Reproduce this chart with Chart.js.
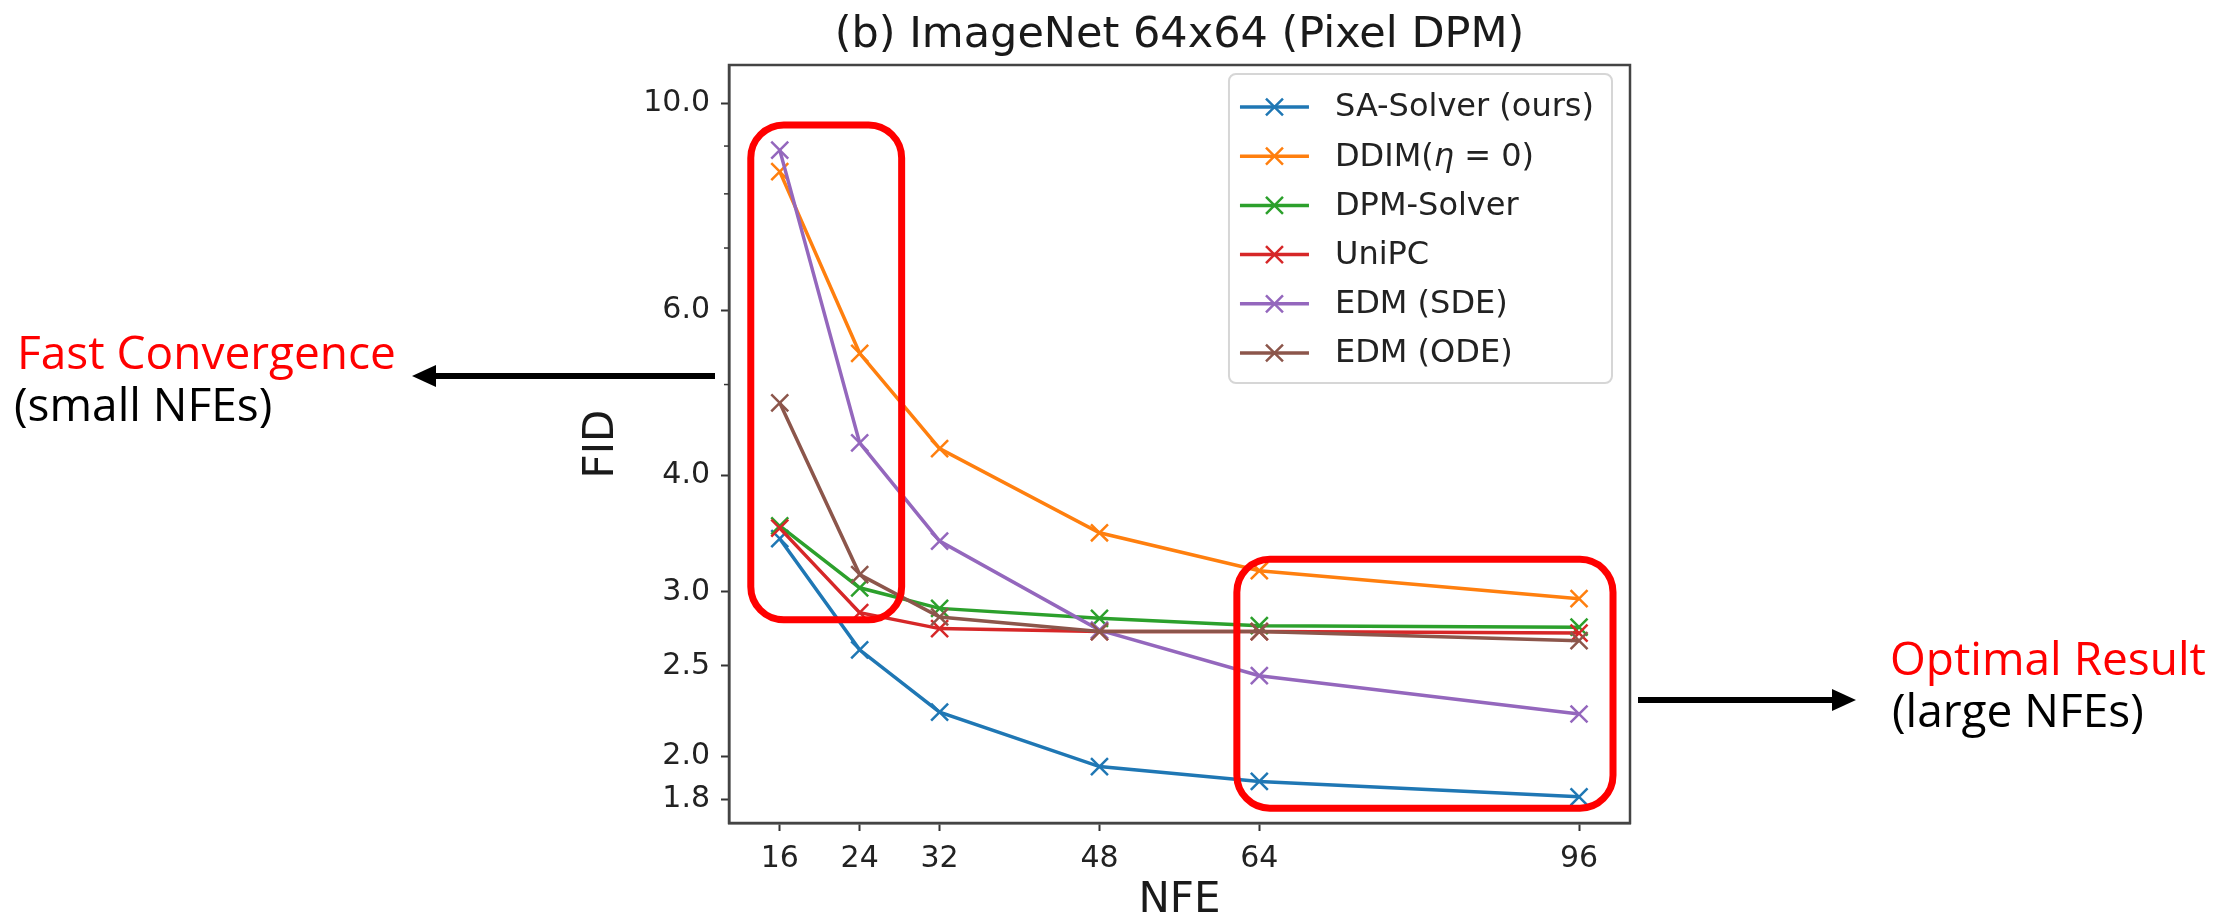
<!DOCTYPE html>
<html>
<head>
<meta charset="utf-8">
<script src="https://cdn.jsdelivr.net/npm/chart.js@4"></script>
<style>
  html, body { margin: 0; padding: 0; background: #fff; }
  #wrap { position: relative; width: 2223px; height: 922px; }
  canvas { position: absolute; left: 0; top: 0; }
  .note { position: absolute; font-family: "Open Sans", sans-serif; font-size: 46px; line-height: 46px; white-space: nowrap; color: #000; }
  .red { color: #ff0000; }
</style>
</head>
<body>
<div id="wrap">
  <canvas id="chart" width="2223" height="922"></canvas>
  <div class="note red" style="left:17px;top:328px">Fast Convergence</div>
  <div class="note" style="left:14px;top:380px">(small NFEs)</div>
  <div class="note red" style="left:1890px;top:634px">Optimal Result</div>
  <div class="note" style="left:1892px;top:686px">(large NFEs)</div>
</div>
<script>
const nfe = [16, 24, 32, 48, 64, 96];

const saSolver = [3.42, 2.60, 2.23, 1.95, 1.88, 1.81];
const ddim = [8.45, 5.40, 4.27, 3.47, 3.16, 2.95];
const dpmSolver = [3.53, 3.03, 2.88, 2.81, 2.76, 2.75];
const uniPC = [3.51, 2.85, 2.74, 2.72, 2.72, 2.71];
const edmSde = [8.91, 4.33, 3.40, 2.73, 2.44, 2.22];
const edmOde = [4.78, 3.13, 2.82, 2.72, 2.72, 2.66];

const seriesNames = ["SA-Solver (ours)", "DDIM(η = 0)", "DPM-Solver", "UniPC", "EDM (SDE)", "EDM (ODE)"];
const seriesValues = [saSolver, ddim, dpmSolver, uniPC, edmSde, edmOde];
const seriesColors = ["#1f77b4", "#ff7f0e", "#2ca02c", "#d62728", "#9467bd", "#8c564b"];

const yTicks = [1.8, 2.0, 2.5, 3.0, 4.0, 6.0, 10.0];
const yMinorTicks = [5, 7, 8, 9];

Chart.defaults.font.family = "'DejaVu Sans', sans-serif";

function drawX(ctx, cx, cy, r) {
  const d = r * Math.SQRT1_2;
  ctx.beginPath();
  ctx.moveTo(cx - d, cy - d); ctx.lineTo(cx + d, cy + d);
  ctx.moveTo(cx - d, cy + d); ctx.lineTo(cx + d, cy - d);
  ctx.stroke();
}

function roundedRect(ctx, x, y, w, h, r) {
  ctx.beginPath();
  ctx.moveTo(x + r, y);
  ctx.lineTo(x + w - r, y);
  ctx.arcTo(x + w, y, x + w, y + r, r);
  ctx.lineTo(x + w, y + h - r);
  ctx.arcTo(x + w, y + h, x + w - r, y + h, r);
  ctx.lineTo(x + r, y + h);
  ctx.arcTo(x, y + h, x, y + h - r, r);
  ctx.lineTo(x, y + r);
  ctx.arcTo(x, y, x + r, y, r);
  ctx.closePath();
}

function arrow(ctx, x0, x1, yy) {
  const dir = Math.sign(x1 - x0);
  const headLen = 24, headHalf = 11;
  ctx.strokeStyle = "#000";
  ctx.fillStyle = "#000";
  ctx.lineWidth = 6;
  ctx.beginPath();
  ctx.moveTo(x0, yy);
  ctx.lineTo(x1 - dir * headLen, yy);
  ctx.stroke();
  ctx.beginPath();
  ctx.moveTo(x1, yy);
  ctx.lineTo(x1 - dir * headLen, yy - headHalf);
  ctx.lineTo(x1 - dir * headLen, yy + headHalf);
  ctx.closePath();
  ctx.fill();
}

// legend label with the greek eta set in italic, like the mathtext original
function legendText(ctx, text, x, y) {
  const parts = text.split("η");
  let cx = x;
  parts.forEach((p, i) => {
    ctx.font = "32px 'DejaVu Sans'";
    ctx.fillText(p, cx, y);
    cx += ctx.measureText(p).width;
    if (i < parts.length - 1) {
      ctx.font = "italic 32px 'DejaVu Sans'";
      ctx.fillText("η", cx, y);
      cx += ctx.measureText("η").width;
    }
  });
}

// frame, minor ticks, legend, highlight boxes and side arrows
const extras = {
  id: "extras",
  afterDatasetsDraw(chart) {
    const { ctx, chartArea: a, scales: { x, y } } = chart;
    ctx.save();

    ctx.strokeStyle = "#444";
    ctx.lineWidth = 2.5;
    ctx.strokeRect(a.left, a.top, a.right - a.left, a.bottom - a.top);

    ctx.strokeStyle = "#333";
    ctx.lineWidth = 1.5;
    yMinorTicks.forEach(v => {
      const py = y.getPixelForValue(v);
      ctx.beginPath();
      ctx.moveTo(a.left - 5, py);
      ctx.lineTo(a.left, py);
      ctx.stroke();
    });

    // legend
    const sets = chart.data.datasets;
    ctx.font = "32px 'DejaVu Sans'";
    const textW = Math.max(...sets.map(d => ctx.measureText(d.label).width));
    const w = 106 + textW + 18, h = 309;
    const lx = a.right - 18 - w, ly = a.top + 9;
    roundedRect(ctx, lx, ly, w, h, 7);
    ctx.fillStyle = "rgba(255,255,255,0.85)";
    ctx.fill();
    ctx.strokeStyle = "#d6d6d6";
    ctx.lineWidth = 2;
    ctx.stroke();
    sets.forEach((d, i) => {
      const ry = ly + 33 + i * 49.2;
      ctx.strokeStyle = d.borderColor;
      ctx.lineWidth = 3.5;
      ctx.beginPath();
      ctx.moveTo(lx + 11, ry);
      ctx.lineTo(lx + 80, ry);
      ctx.stroke();
      ctx.lineWidth = 2.5;
      drawX(ctx, lx + 45.5, ry, 12);
      ctx.fillStyle = "#222";
      ctx.textBaseline = "middle";
      ctx.textAlign = "left";
      legendText(ctx, d.label, lx + 106, ry + 1);
    });

    // red highlight boxes, in data units: [xFrom, xTo, yTop, yBottom]
    const boxes = [[13.1, 28.2, 9.48, 2.80], [61.75, 99.4, 3.25, 1.76]];
    ctx.strokeStyle = "#ff0000";
    ctx.lineWidth = 7;
    boxes.forEach(b => {
      const x0 = x.getPixelForValue(b[0]), x1 = x.getPixelForValue(b[1]);
      const y0 = y.getPixelForValue(b[2]), y1 = y.getPixelForValue(b[3]);
      roundedRect(ctx, x0, y0, x1 - x0, y1 - y0, 33);
      ctx.stroke();
    });

    arrow(ctx, a.left - 14, 412, 376);
    arrow(ctx, a.right + 8, 1856, 700);

    ctx.restore();
  }
};

const tickFont = { size: 30 };

new Chart(document.getElementById("chart"), {
  type: "line",
  data: {
    datasets: seriesNames.map((name, i) => ({
      label: name,
      data: nfe.map((n, j) => ({ x: n, y: seriesValues[i][j] })),
      borderColor: seriesColors[i],
      backgroundColor: seriesColors[i],
      borderWidth: 3.5,
      tension: 0,
      pointStyle: "crossRot",
      pointRadius: 12,
      pointBorderWidth: 2.5,
      order: seriesNames.length - i
    }))
  },
  options: {
    responsive: false,
    animation: false,
    devicePixelRatio: 1,
    layout: { padding: { left: 577, right: 593, top: 0, bottom: 0 } },
    plugins: {
      legend: { display: false },
      tooltip: { enabled: false },
      title: {
        display: true,
        text: "(b) ImageNet 64x64 (Pixel DPM)",
        fullSize: false,
        color: "#1a1a1a",
        font: { size: 43, weight: "normal", lineHeight: 1.2 },
        padding: { top: 10, bottom: 3.4 }
      }
    },
    scales: {
      x: {
        type: "linear",
        min: 10.92,
        max: 101.1,
        afterBuildTicks: s => { s.ticks = nfe.map(v => ({ value: v })); },
        afterFit: s => { s.height = 99; },
        ticks: { font: tickFont, color: "#222", padding: 10, autoSkip: false, maxRotation: 0, callback: v => String(v) },
        grid: { drawOnChartArea: false, tickLength: 8, tickColor: "#333", tickWidth: 2 },
        border: { color: "#444", width: 2.5 },
        title: { display: true, text: "NFE", color: "#1a1a1a", font: { size: 42, lineHeight: 1 }, padding: 0 }
      },
      y: {
        type: "logarithmic",
        min: 1.697,
        max: 10.99,
        afterBuildTicks: s => { s.ticks = yTicks.map(v => ({ value: v })); },
        afterFit: s => { s.width = 152; },
        ticks: { font: tickFont, color: "#222", padding: 11, autoSkip: false, callback: v => Number(v).toFixed(1) },
        grid: { drawOnChartArea: false, tickLength: 8, tickColor: "#333", tickWidth: 2 },
        border: { color: "#444", width: 2.5 },
        title: { display: true, text: "FID", color: "#1a1a1a", font: { size: 42, lineHeight: 1.2 }, padding: 0 }
      }
    }
  },
  plugins: [extras]
});
</script>
</body>
</html>
